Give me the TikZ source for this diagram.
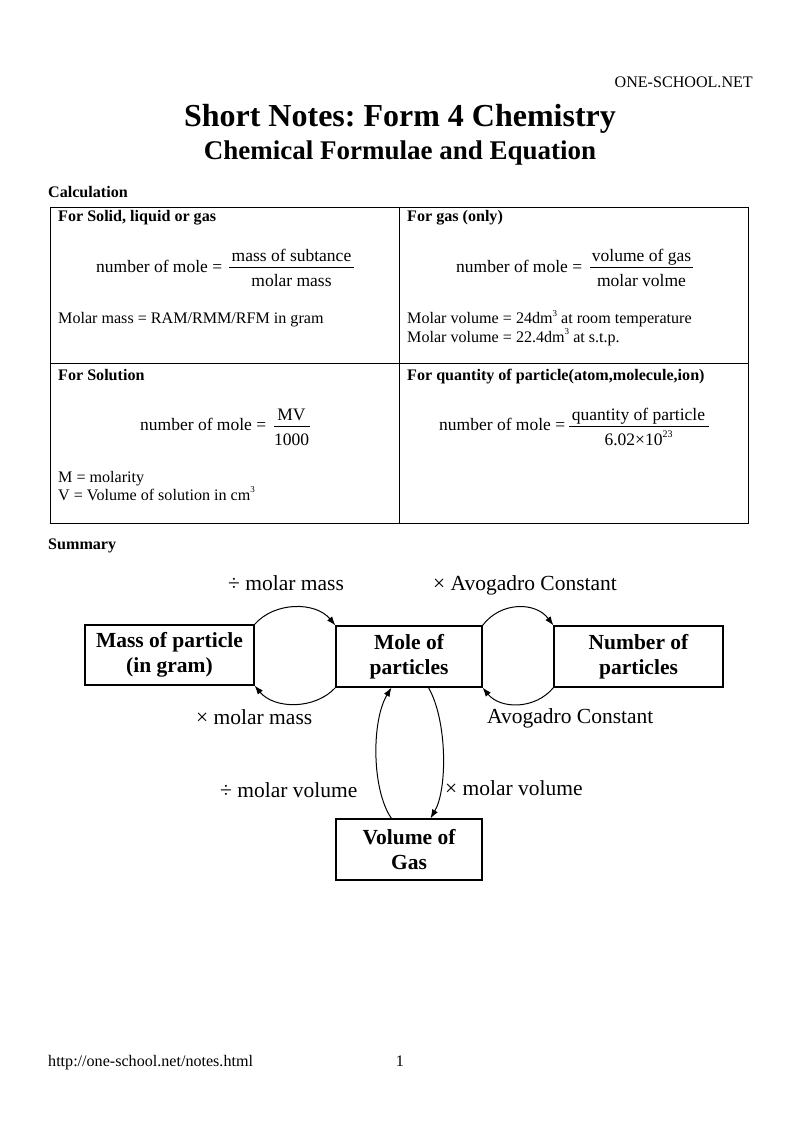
\documentclass[tikz,border=0pt]{standalone}
\usepackage{fontspec}
\setmainfont{Liberation Serif}
\usetikzlibrary{arrows.meta,calc}
\newcommand\myfs[1]{\fontsize{#1}{#1}\selectfont}
\frenchspacing
\begin{document}
\begin{tikzpicture}[x=1pt,y=-1pt,
  txt/.style={anchor=base west,inner sep=0pt,font=\myfs{16.1}},
  hdr/.style={anchor=base west,inner sep=0pt,font=\myfs{16.1}\bfseries},
  eq/.style={anchor=base west,inner sep=0pt,font=\myfs{17.5}},
  eqc/.style={anchor=base,inner sep=0pt,font=\myfs{17.5}},
  bar/.style={line width=1.2pt},
  cell/.style={line width=1pt},
  box/.style={draw,line width=1.1pt,inner sep=0pt,align=center,
    font=\fontsize{21.5}{25}\selectfont\bfseries},
  lbl/.style={anchor=base west,inner sep=0pt,font=\myfs{21.5}},
  arr/.style={line width=1pt,-{Latex[length=9pt,width=6.5pt]}}
]
\useasboundingbox (0,0) rectangle (800,1132);
\fill[white] (0,0) rectangle (800,1132);

% header
\node[anchor=base east,inner sep=0pt,font=\myfs{16.1}] (site) at (753,87.5) {ONE-SCHOOL.NET};
\node[anchor=base,inner sep=0pt,font=\myfs{32}\bfseries] (title) at (400,126) {Short Notes: Form 4 Chemistry};
\node[anchor=base,inner sep=0pt,font=\myfs{27}\bfseries] (subtitle) at (400,159) {Chemical Formulae and Equation};

% calculation table
\node[hdr] (calc) at (48,197) {Calculation};
\draw[cell] (50,207) rectangle (748,523);
\draw[cell] (399,207) -- (399,523);
\draw[cell] (50,363.5) -- (748,363.5);

\node[hdr] (h1) at (58,221.7) {For Solid, liquid or gas};
\node[hdr] (h2) at (407,221.7) {For gas (only)};
\node[hdr] (h3) at (58,380) {For Solution};
\node[hdr] (h4) at (407,380) {For quantity of particle(atom,molecule,ion)};

% formula 1
\node[eq] (e1) at (96,272.7) {number of mole =};
\node[eqc] (n1) at (291.5,261.7) {mass of subtance};
\draw[bar] (229,267.7) -- (354,267.7);
\node[eqc] (d1) at (291.5,286) {molar mass};
\node[txt] (t1) at (58,323) {Molar mass = RAM/RMM/RFM in gram};

% formula 2
\node[eq] (e2) at (456,272.7) {number of mole =};
\node[eqc] (n2) at (641.5,261.7) {volume of gas};
\draw[bar] (590,267.7) -- (693,267.7);
\node[eqc] (d2) at (641.5,286) {molar volme};
\node[txt] (t2) at (407,323.5) {Molar volume = 24dm\raisebox{0.45em}{\myfs{9}3} at room temperature};
\node[txt] (t3) at (407,342) {Molar volume = 22.4dm\raisebox{0.45em}{\myfs{9}3} at s.t.p.};

% formula 3
\node[eq] (e3) at (140,430.7) {number of mole =};
\node[eqc] (n3) at (291.5,420) {MV};
\draw[bar] (274,426.5) -- (310,426.5);
\node[eqc] (d3) at (291.5,445) {1000};
\node[txt] (t4) at (58,482) {M = molarity};
\node[txt] (t5) at (58,500) {V = Volume of solution in cm\raisebox{0.45em}{\myfs{9}3}};

% formula 4
\node[eq] (e4) at (439,430.7) {number of mole =};
\node[eqc] (n4) at (638.5,420) {quantity of particle};
\draw[bar] (569,426.5) -- (709,426.5);
\node[eqc] (d4) at (638.5,445) {6.02×10\raisebox{0.45em}{\myfs{10}23}};

% summary diagram
\node[hdr] (summ) at (48,549) {Summary};

\node[box,minimum width=169pt,minimum height=60pt] (mass) at (169.5,655) {Mass of particle\\(in gram)};
\node[box,minimum width=146pt,minimum height=61pt] (mole) at (409,656.5) {Mole of\\particles};
\node[box,minimum width=169pt,minimum height=61pt] (num) at (638.5,656.5) {Number of\\particles};
\node[box,minimum width=146pt,minimum height=61pt] (vol) at (409,849.5) {Volume of\\Gas};

\draw[arr] (mass.north east) .. controls ($(mass.north east)+(20,-23)$) and ($(mole.north west)+(-20,-24)$) .. (mole.north west);
\draw[arr] (mole.south west) .. controls ($(mole.south west)+(-20,22)$) and ($(mass.south east)+(20,24)$) .. (mass.south east);
\draw[arr] (mole.north east) .. controls ($(mole.north east)+(18,-24)$) and ($(num.north west)+(-18,-24)$) .. (num.north west);
\draw[arr] (num.south west) .. controls ($(num.south west)+(-18,22)$) and ($(mole.south east)+(18,22)$) .. (mole.south east);
\draw[arr] ($(vol.north west)+(56,0)$) .. controls ($(vol.north west)+(36,-29)$) and ($(mole.south west)+(36,33)$) .. ($(mole.south west)+(56,0)$);
\draw[arr] ($(mole.south west)+(93,0)$) .. controls ($(mole.south west)+(112,33)$) and ($(vol.north west)+(112,-29)$) .. ($(vol.north west)+(95,0)$);

\node[lbl] (l1) at (228,590) {÷ molar mass};
\node[lbl] (l2) at (433,590) {× Avogadro Constant};
\node[lbl] (l3) at (196,724) {× molar mass};
\node[lbl] (l4) at (487,723) {Avogadro Constant};
\node[lbl] (l5) at (220,797) {÷ molar volume};
\node[lbl] (l6) at (445,795) {× molar volume};

% footer
\node[txt] (url) at (48,1066) {http://one-school.net/notes.html};
\node[anchor=base,inner sep=0pt,font=\myfs{16.1}] (page) at (400,1066) {1};
\end{tikzpicture}
\end{document}
